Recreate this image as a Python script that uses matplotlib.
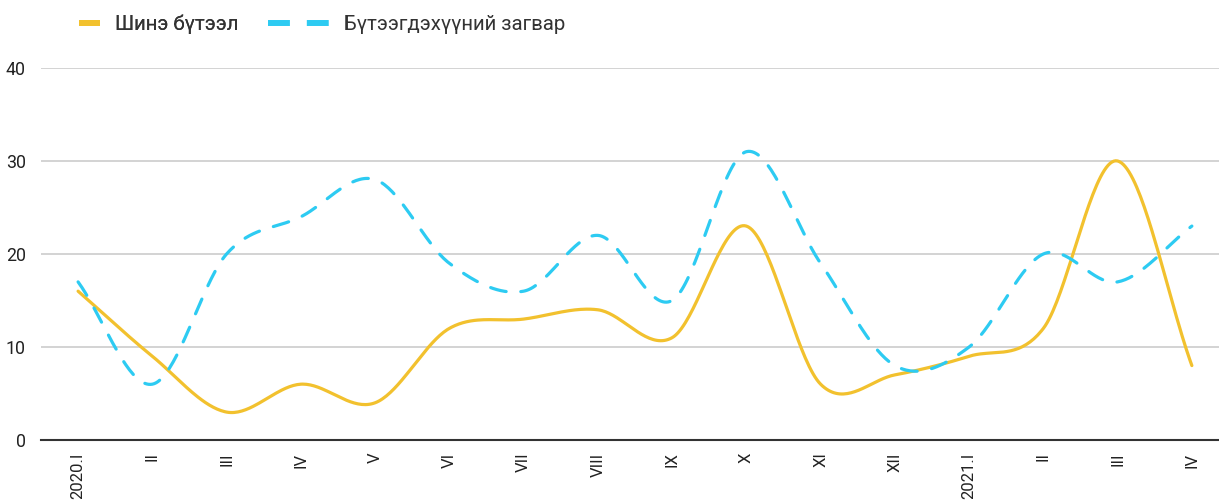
import numpy as np
import matplotlib
matplotlib.use("Agg")
import matplotlib.pyplot as plt
from matplotlib.lines import Line2D

plt.rcParams['font.family'] = ['Roboto', 'DejaVu Sans']

categories = ["2020.I", "II", "III", "IV", "V", "VI", "VII", "VIII", "IX", "X",
              "XI", "XII", "2021.I", "II", "III", "IV"]
new_invention = [16, 9, 3, 6, 4, 12, 13, 14, 11, 23, 6, 7, 9, 12, 30, 8]
utility_model = [17, 6, 20, 24, 28, 19, 16, 22, 15, 31, 19, 8, 10, 20, 17, 23]
series_names = ["Шинэ бүтээл", "Бүтээгдэхүүний загвар"]
yticks = [0, 10, 20, 30, 40]

YELLOW = "#F2C12E"
BLUE = "#2DCBF2"


def catmull_rom(xs, ys, n=40):
    """Smooth curve through the points (Catmull-Rom / cardinal spline)."""
    xs = np.asarray(xs, float)
    ys = np.asarray(ys, float)
    m = len(ys)
    tang = np.empty(m)
    tang[1:-1] = (ys[2:] - ys[:-2]) / 2.0
    tang[0] = ys[1] - ys[0]
    tang[-1] = ys[-1] - ys[-2]
    t = np.linspace(0, 1, n)
    h00 = 2 * t**3 - 3 * t**2 + 1
    h10 = t**3 - 2 * t**2 + t
    h01 = -2 * t**3 + 3 * t**2
    h11 = t**3 - t**2
    outx, outy = [], []
    for i in range(m - 1):
        dx = xs[i + 1] - xs[i]
        yy = h00 * ys[i] + h10 * tang[i] + h01 * ys[i + 1] + h11 * tang[i + 1]
        xx = xs[i] + t * dx
        if i > 0:
            xx, yy = xx[1:], yy[1:]
        outx.append(xx); outy.append(yy)
    return np.concatenate(outx), np.concatenate(outy)


fig = plt.figure(figsize=(12.19, 5.01), dpi=100)
ax = fig.add_axes([0.0336, 0.1218, 0.9746, 0.7425])

x = np.arange(len(categories))
sx, sy = catmull_rom(x, new_invention)
ax.plot(sx, sy, color=YELLOW, lw=2.3, solid_capstyle='round', zorder=3)
bx, by = catmull_rom(x, utility_model)
ax.plot(bx, by, color=BLUE, lw=2.3, dashes=(5.0, 4.6), dash_capstyle='round', zorder=3)

ax.set_xlim(-0.5, len(categories) - 0.5)
ax.set_ylim(0, 40)
ax.set_yticks(yticks)
ax.set_yticklabels([str(v) for v in yticks], fontsize=12.8, color="#222222")
ax.set_xticks(x)
ax.set_xticklabels(categories, rotation=90, fontsize=12, color="#222222", va='top')
ax.tick_params(axis='both', length=0)
ax.tick_params(axis='y', pad=11)
ax.tick_params(axis='x', pad=9)
ax.grid(axis='y', color="#cccccc", lw=1.2)
ax.set_axisbelow(True)
for s in ['top', 'right', 'left']:
    ax.spines[s].set_visible(False)
ax.spines['bottom'].set_color("#333333")
ax.spines['bottom'].set_linewidth(1.5)
ax.spines['bottom'].set_zorder(4)

h1 = Line2D([], [], color=YELLOW, lw=4.3, solid_capstyle='butt')
h2 = Line2D([], [], color=BLUE, lw=4.3, dashes=(3.67, 2.83), dash_capstyle='butt')
leg1 = fig.legend([h1], [series_names[0]], loc='center left', bbox_to_anchor=(0.0648, 0.951),
                  frameon=False, fontsize=14.7, handlelength=1.03, handletextpad=0.73,
                  labelcolor="#333333", borderpad=0, borderaxespad=0)
leg2 = fig.legend([h2], [series_names[1]], loc='center left', bbox_to_anchor=(0.2199, 0.951),
                  frameon=False, fontsize=14.7, handlelength=3.0, handletextpad=0.73,
                  labelcolor="#333333", borderpad=0, borderaxespad=0)
fig.add_artist(leg1)

fig.savefig("out.png", dpi=100)
